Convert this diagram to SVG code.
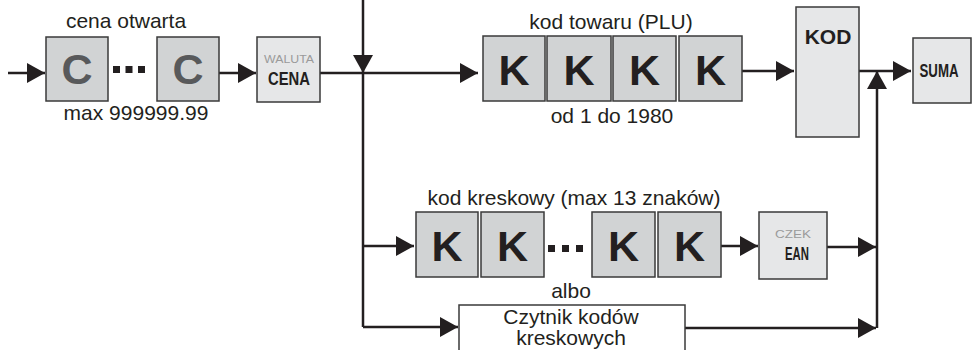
<svg xmlns="http://www.w3.org/2000/svg" width="972" height="350" viewBox="0 0 972 350">
<defs>
<marker id="ah" markerUnits="userSpaceOnUse" markerWidth="18" markerHeight="20" refX="18" refY="10" orient="auto">
<path d="M0,0 L18,10 L0,20 z" fill="#231f20"/>
</marker>
<style>
.ln{fill:none;stroke:#231f20;stroke-width:2.5}
.bx{fill:#d1d3d4;stroke:#3a3a3a;stroke-width:1.5}
.lb{fill:#e6e7e8;stroke:#3a3a3a;stroke-width:1.5}
.wb{fill:#fff;stroke:#3a3a3a;stroke-width:1.5}
.t{font-family:"Liberation Sans",Arial,sans-serif;font-size:21px;fill:#231f20;text-anchor:middle}
.k{font-family:"Liberation Sans",Arial,sans-serif;font-size:43px;font-weight:bold;fill:#231f20;text-anchor:middle}
.c{font-family:"Liberation Sans",Arial,sans-serif;font-size:43px;font-weight:bold;fill:#58595b;text-anchor:middle}
.sm{font-family:"Liberation Sans",Arial,sans-serif;font-size:11px;fill:#9a9a9a;text-anchor:middle}
.bd{font-family:"Liberation Sans",Arial,sans-serif;font-size:18px;font-weight:bold;fill:#231f20;text-anchor:middle}
.dot{fill:#231f20}
</style>
</defs>
<rect width="972" height="350" fill="#fff"/>

<g id="connectors">
<path class="ln" d="M8,73 L45,73" marker-end="url(#ah)"/>
<path class="ln" d="M219,73 L256,73" marker-end="url(#ah)"/>
<path class="ln" d="M320,73 L478,73" marker-end="url(#ah)"/>
<path class="ln" d="M363,0 L363,73" marker-end="url(#ah)"/>
<path class="ln" d="M363,73 L363,327"/>
<path class="ln" d="M363,246 L414,246" marker-end="url(#ah)"/>
<path class="ln" d="M363,327 L458,327" marker-end="url(#ah)"/>
<path class="ln" d="M742,71 L794,71" marker-end="url(#ah)"/>
<path class="ln" d="M859,71 L911,71" marker-end="url(#ah)"/>
<path class="ln" d="M877,328 L877,71" marker-end="url(#ah)"/>
<path class="ln" d="M721,246 L758,246" marker-end="url(#ah)"/>
<path class="ln" d="M827,247 L876,247" marker-end="url(#ah)"/>
<path class="ln" d="M685,328 L876,328" marker-end="url(#ah)"/>
</g>

<g id="cena-otwarta">
<text class="t" x="126" y="28">cena otwarta</text>
<rect class="bx" x="46" y="37" width="62" height="64"/>
<text class="c" x="77" y="84">C</text>
<rect class="dot" x="113" y="66" width="7" height="7"/>
<rect class="dot" x="125.5" y="66" width="7" height="7"/>
<rect class="dot" x="138" y="66" width="7" height="7"/>
<rect class="bx" x="157" y="37" width="62" height="64"/>
<text class="c" x="188" y="84">C</text>
<text class="t" x="136" y="120">max 999999.99</text>
</g>

<g id="waluta-cena">
<rect class="lb" x="257" y="37" width="63" height="65"/>
<text class="sm" x="289" y="63" textLength="50" lengthAdjust="spacingAndGlyphs">WALUTA</text>
<text class="bd" x="289" y="85" textLength="42" lengthAdjust="spacingAndGlyphs">CENA</text>
</g>

<g id="kod-towaru">
<text class="t" x="611" y="29">kod towaru (PLU)</text>
<rect class="bx" x="483" y="36" width="62" height="65"/>
<text class="k" x="514" y="85">K</text>
<rect class="bx" x="547" y="36" width="64" height="65"/>
<text class="k" x="579" y="85">K</text>
<rect class="bx" x="613" y="36" width="63" height="65"/>
<text class="k" x="644.5" y="85">K</text>
<rect class="bx" x="679" y="36" width="63" height="65"/>
<text class="k" x="710.5" y="85">K</text>
<text class="t" x="612" y="123">od 1 do 1980</text>
</g>

<g id="kod">
<rect class="lb" x="796" y="7" width="63" height="130"/>
<text class="bd" x="828" y="44" style="font-size:21px">KOD</text>
</g>

<g id="suma">
<rect class="lb" x="913" y="38" width="58" height="65"/>
<text class="bd" x="939" y="77" textLength="39" lengthAdjust="spacingAndGlyphs">SUMA</text>
</g>

<g id="kod-kreskowy">
<text class="t" x="574" y="205">kod kreskowy (max 13 znaków)</text>
<rect class="bx" x="416" y="212" width="62" height="65"/>
<text class="k" x="447" y="261">K</text>
<rect class="bx" x="481" y="212" width="63" height="65"/>
<text class="k" x="512.5" y="261">K</text>
<rect class="dot" x="548" y="245" width="7" height="7"/>
<rect class="dot" x="562" y="245" width="7" height="7"/>
<rect class="dot" x="576" y="245" width="7" height="7"/>
<rect class="bx" x="592" y="212" width="63" height="65"/>
<text class="k" x="623.5" y="261">K</text>
<rect class="bx" x="658" y="212" width="63" height="65"/>
<text class="k" x="689.5" y="261">K</text>
</g>

<g id="czek-ean">
<rect class="lb" x="759" y="212" width="68" height="67"/>
<text class="sm" x="793" y="238" style="font-size:10px" textLength="36" lengthAdjust="spacingAndGlyphs">CZEK</text>
<text class="bd" x="797" y="260" textLength="24" lengthAdjust="spacingAndGlyphs">EAN</text>
</g>

<g id="czytnik">
<text class="t" x="571" y="298">albo</text>
<rect class="wb" x="459" y="305" width="226" height="60"/>
<text class="t" x="571" y="324">Czytnik kodów</text>
<text class="t" x="571" y="345">kreskowych</text>
</g>
</svg>
